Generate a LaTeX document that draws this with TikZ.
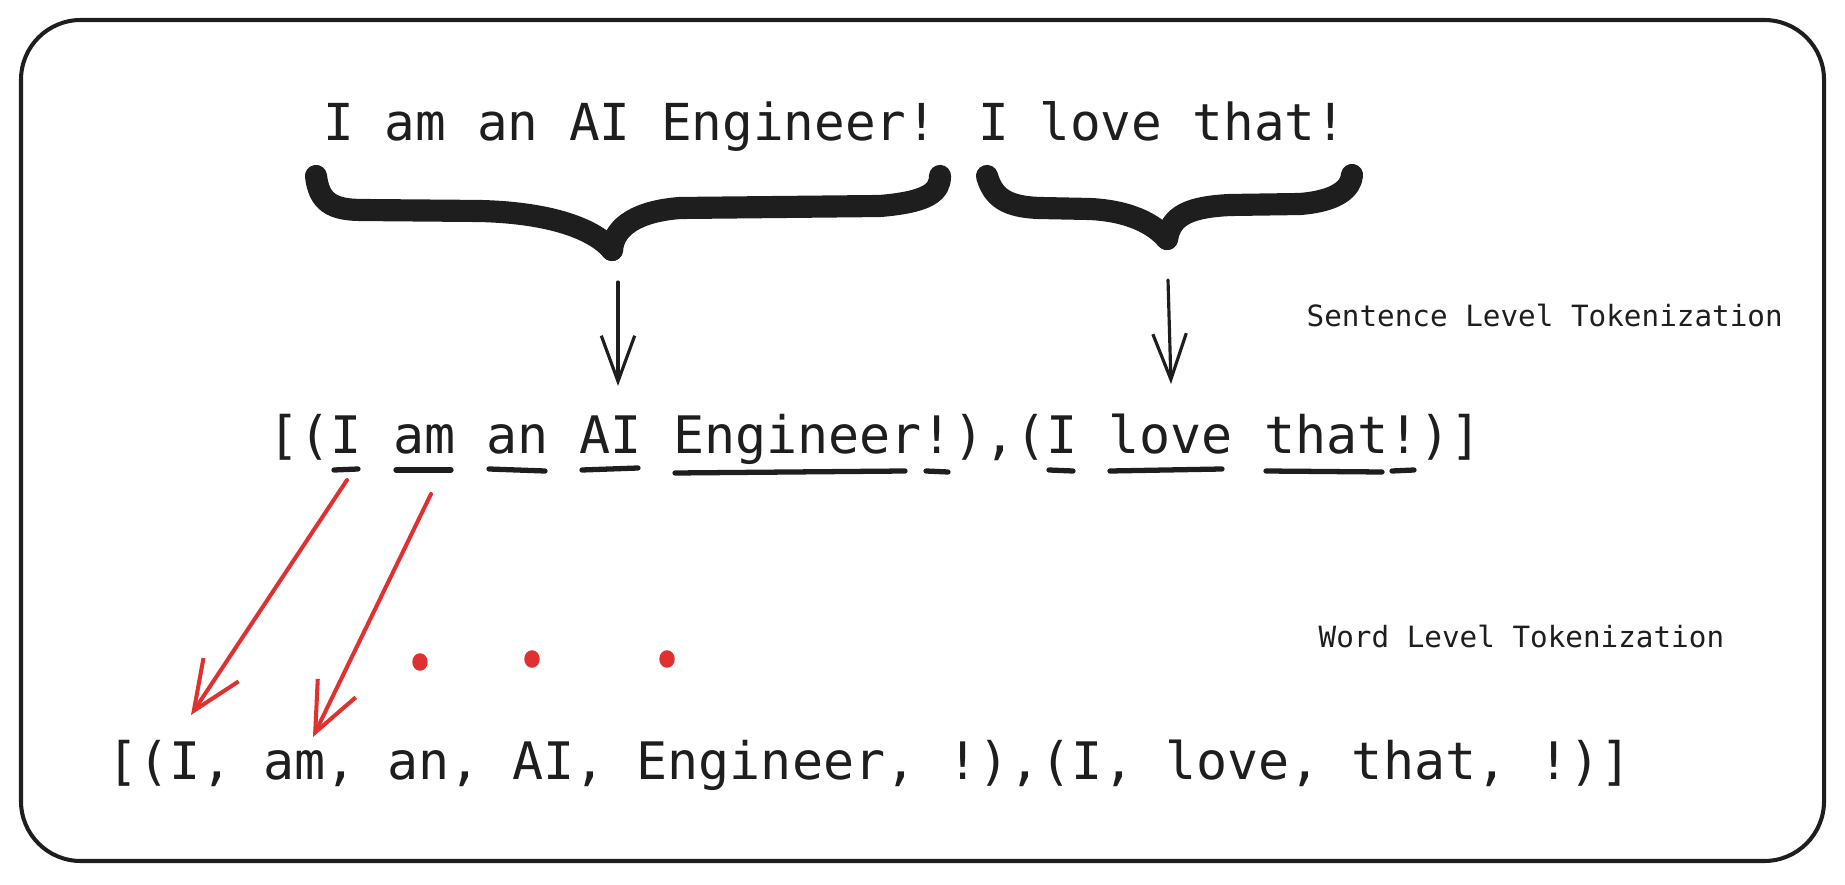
\documentclass[tikz,border=0pt]{standalone}
\usepackage{fontspec}
\newfontfamily\handfont{DejaVu Sans Mono}
\usetikzlibrary{arrows.meta}
\definecolor{ink}{HTML}{1E1E1E}
\definecolor{exred}{HTML}{E03131}
\tikzset{
  big/.style={font=\handfont\fontsize{14.5}{17}\selectfont, inner sep=0pt, text=ink},
  bigb/.style={font=\handfont\fontsize{14.7}{17}\selectfont, inner sep=0pt, text=ink},
  small/.style={font=\handfont\fontsize{8.33}{10}\selectfont, inner sep=0pt, text=ink},
  brace/.style={draw=ink, line width=6.3pt, line cap=round, line join=round},
  uline/.style={draw=ink, line width=1.5pt, line cap=round},
  blackarrow/.style={draw=ink, line width=0.9pt, -{Straight Barb[length=13pt,width=9.5pt]}},
  redarrow/.style={draw=exred, line width=1.15pt, -{Straight Barb[length=14pt,width=12pt]}},
  reddot/.style={fill=exred},
}
\begin{document}
\begin{tikzpicture}[x=0.2845pt, y=-0.2845pt, line cap=round, line join=round]
\useasboundingbox (0,0) rectangle (1845,885);
\draw[ink, line width=1.15pt, rounded corners=17pt] (21,20) rectangle (1824,861);

% texts
\node[big, anchor=base] (top) at (835,141) {I am an AI Engineer! I love that!};
\node[bigb, anchor=base west] (sent) at (268,453) {[(I am an AI Engineer!),(I love that!)]};
\node[bigb, anchor=base west] (word) at (107,779) {[(I, am, an, AI, Engineer, !),(I, love, that, !)]};
\node[small, anchor=base west] (lsent) at (1306,327) {Sentence Level Tokenization};
\node[small, anchor=base west] (lword) at (1318,647) {Word Level Tokenization};

% braces
\path[brace] (316,176) .. controls (319,202) and (332,210) .. (362,210) -- (480,211)
  .. controls (560,213) and (598,233) .. (612,250);
\path[brace] (612,250) .. controls (614,225) and (640,211) .. (680,208) -- (880,206)
  .. controls (928,202) and (940,192) .. (940,176);
\path[brace] (987,176) .. controls (993,197) and (1006,207) .. (1040,208) -- (1090,209)
  .. controls (1130,211) and (1154,224) .. (1167,239);
\path[brace] (1167,239) .. controls (1171,215) and (1190,207) .. (1230,205) -- (1300,204)
  .. controls (1338,201) and (1351,188) .. (1352,175);

% black arrows
\coordinate (a1s) at (618,282);
\coordinate (a1e) at (618,386);
\coordinate (a2s) at (1168,280);
\coordinate (a2e) at (1171,384);
\draw[blackarrow] (a1s) -- (a1e);
\draw[blackarrow] (a2s) -- (a2e);

% underlines
\draw[uline] (334,470) -- (358,469);
\draw[uline] (396,470) -- (451,470);
\draw[uline] (489,469) -- (545,471);
\draw[uline] (582,470) -- (638,468);
\draw[uline] (675,473) -- (905,471);
\draw[uline] (926,471) -- (948,472);
\draw[uline] (1049,470) -- (1073,471);
\draw[uline] (1110,471) -- (1222,469);
\draw[uline] (1266,471) -- (1382,472);
\draw[uline] (1392,471) -- (1414,470);

% red arrows
\coordinate (r1s) at (347,480);
\coordinate (r1e) at (191,715);
\coordinate (r2s) at (431,494);
\coordinate (r2e) at (313,737);
\draw[redarrow] (r1s) -- (r1e);
\draw[redarrow] (r2s) -- (r2e);

% dots
\fill[reddot] (420,662) ellipse (2.2pt and 2.5pt);
\fill[reddot] (532,659) ellipse (2.2pt and 2.5pt);
\fill[reddot] (667,659) ellipse (2.2pt and 2.5pt);
\end{tikzpicture}
\end{document}
